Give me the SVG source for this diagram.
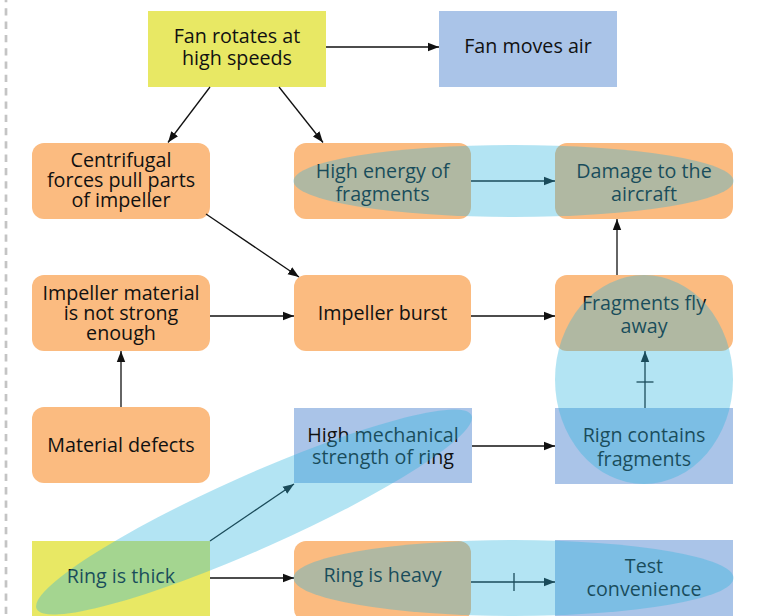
<svg xmlns="http://www.w3.org/2000/svg" width="760" height="616" viewBox="0 0 760 616">
  <style>
    .yellow { fill: #e8e864; }
    .blue { fill: #aac4e8; }
    .orange { fill: #fbbb80; }
    .label { font-family: "Open Sans", "Noto Sans", sans-serif; font-size: 19.7px; fill: #111; text-anchor: middle; }
    .link { stroke: #111; stroke-width: 1.3; fill: none; }
    .tick { stroke: #111; stroke-width: 1.3; }
    .hl { fill: #2bb3dd; fill-opacity: 0.36; }
  </style>
  <defs>
    <marker id="arrow" markerUnits="userSpaceOnUse" markerWidth="12" markerHeight="10" refX="11" refY="5" orient="auto">
      <path d="M0,0.8 L11,5 L0,9.2 Z" fill="#111"/>
    </marker>
  </defs>

  <rect width="760" height="616" fill="#ffffff"/>

  <!-- dashed margin rule -->
  <line x1="6" y1="0" x2="6" y2="616" stroke="#c4c4c4" stroke-width="2.7" stroke-dasharray="7.3 6" stroke-dashoffset="5"/>

  <g id="nodes">
    <g id="fan-rotates">
      <rect class="yellow" x="148" y="11" width="178" height="76"/>
      <text class="label" x="237" y="43">Fan rotates at<tspan x="237" dy="22">high speeds</tspan></text>
    </g>
    <g id="fan-moves-air">
      <rect class="blue" x="439" y="11" width="178" height="76"/>
      <text class="label" x="528" y="53">Fan moves air</text>
    </g>
    <g id="centrifugal">
      <rect class="orange" x="32" y="143" width="178" height="76" rx="12"/>
      <text class="label" x="121" y="167">Centrifugal<tspan x="121" dy="20">forces pull parts</tspan><tspan x="121" dy="20">of impeller</tspan></text>
    </g>
    <g id="high-energy">
      <rect class="orange" x="294" y="143" width="177" height="76" rx="12"/>
      <text class="label" x="382.5" y="178">High energy of<tspan x="382.5" dy="23">fragments</tspan></text>
    </g>
    <g id="damage">
      <rect class="orange" x="555" y="143" width="178" height="76" rx="12"/>
      <text class="label" x="644" y="178">Damage to the<tspan x="644" dy="23">aircraft</tspan></text>
    </g>
    <g id="material-weak">
      <rect class="orange" x="32" y="275" width="178" height="76" rx="12"/>
      <text class="label" x="121" y="300">Impeller material<tspan x="121" dy="20">is not strong</tspan><tspan x="121" dy="20">enough</tspan></text>
    </g>
    <g id="impeller-burst">
      <rect class="orange" x="294" y="275" width="177" height="76" rx="12"/>
      <text class="label" x="382.5" y="320">Impeller burst</text>
    </g>
    <g id="fragments-fly">
      <rect class="orange" x="555" y="275" width="178" height="76" rx="12"/>
      <text class="label" x="644" y="310">Fragments fly<tspan x="644" dy="23">away</tspan></text>
    </g>
    <g id="material-defects">
      <rect class="orange" x="32" y="407" width="178" height="76" rx="12"/>
      <text class="label" x="121" y="452">Material defects</text>
    </g>
    <g id="ring-strength">
      <rect class="blue" x="294" y="408" width="178" height="75"/>
      <text class="label" x="383" y="442">High mechanical<tspan x="383" dy="22">strength of ring</tspan></text>
    </g>
    <g id="ring-contains">
      <rect class="blue" x="555" y="408" width="178" height="76"/>
      <text class="label" x="644" y="442">Rign contains<tspan x="644" dy="24">fragments</tspan></text>
    </g>
    <g id="ring-thick">
      <rect class="yellow" x="32" y="541" width="178" height="76"/>
      <text class="label" x="121" y="583">Ring is thick</text>
    </g>
    <g id="ring-heavy">
      <rect class="orange" x="294" y="541" width="177" height="80" rx="12"/>
      <text class="label" x="382.5" y="582">Ring is heavy</text>
    </g>
    <g id="test-convenience">
      <rect class="blue" x="555" y="540" width="178" height="77"/>
      <text class="label" x="644" y="573">Test<tspan x="644" dy="23">convenience</tspan></text>
    </g>
  </g>

  <g id="connectors">
    <line class="link" x1="326" y1="47" x2="439" y2="47" marker-end="url(#arrow)"/>
    <line class="link" x1="210" y1="87" x2="168" y2="142.5" marker-end="url(#arrow)"/>
    <line class="link" x1="279" y1="87" x2="323" y2="142.5" marker-end="url(#arrow)"/>
    <line class="link" x1="206" y1="214" x2="299" y2="277" marker-end="url(#arrow)"/>
    <line class="link" x1="210" y1="316" x2="294" y2="316" marker-end="url(#arrow)"/>
    <line class="link" x1="471" y1="316" x2="555" y2="316" marker-end="url(#arrow)"/>
    <line class="link" x1="617" y1="275" x2="617" y2="219" marker-end="url(#arrow)"/>
    <line class="link" x1="471" y1="181" x2="555" y2="181" marker-end="url(#arrow)"/>
    <line class="link" x1="121" y1="407" x2="121" y2="351" marker-end="url(#arrow)"/>
    <line class="link" x1="210" y1="541" x2="294" y2="484" marker-end="url(#arrow)"/>
    <line class="link" x1="210" y1="578" x2="294" y2="578" marker-end="url(#arrow)"/>
    <line class="link" x1="472" y1="446" x2="555" y2="446" marker-end="url(#arrow)"/>
    <line class="link" x1="645" y1="408" x2="645" y2="351" marker-end="url(#arrow)"/>
    <line class="tick" x1="636.5" y1="382" x2="653.5" y2="382"/>
    <line class="link" x1="471" y1="582" x2="555" y2="582" marker-end="url(#arrow)"/>
    <line class="tick" x1="514" y1="573" x2="514" y2="591"/>
  </g>

  <!-- translucent groupings laid over the chart -->
  <g id="highlights">
    <ellipse class="hl" cx="513.5" cy="181" rx="220" ry="36"/>
    <ellipse class="hl" cx="644" cy="379.5" rx="89" ry="104.5"/>
    <ellipse class="hl" cx="513.5" cy="578" rx="220" ry="38"/>
    <ellipse class="hl" cx="0" cy="0" rx="238" ry="37" transform="translate(254 512) rotate(-24)"/>
  </g>
</svg>
